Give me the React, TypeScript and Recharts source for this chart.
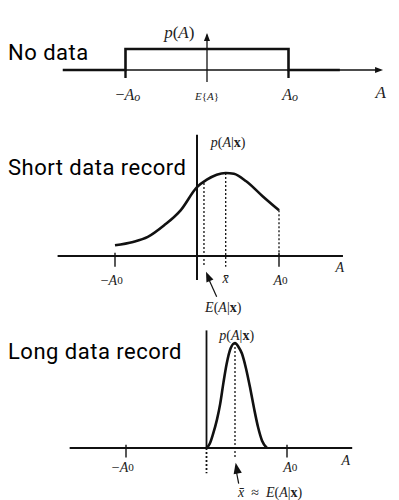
import React from 'react';
import { LineChart, Line, XAxis, YAxis, ReferenceLine, ReferenceDot } from 'recharts';

// ---- Data (A in units of A0, density in units of each panel's peak) ----
const titles = ['No data', 'Short data record', 'Long data record'];

// Panel 1: uniform prior p(A) on [-A0, A0]
const noDataA = [-1.77, -1, -1, 1, 1, 1.63];
const noDataP = [0, 0, 1, 1, 0, 0];

// Panel 2: posterior with short data record
const shortA = [-1, -0.78, -0.6, -0.4, -0.2, 0, 0.12, 0.24, 0.35, 0.45, 0.6, 0.8, 1.0];
const shortP = [0.13, 0.17, 0.23, 0.37, 0.55, 0.83, 0.92, 0.98, 1.0, 0.99, 0.9, 0.72, 0.55];
const shortXbar = 0.35;
const shortMean = 0.085;

// Panel 3: posterior with long data record
const longA = [0, 0.04, 0.08, 0.13, 0.17, 0.21, 0.25, 0.3, 0.354, 0.4, 0.44, 0.49, 0.54, 0.59, 0.64, 0.69, 0.75];
const longP = [0, 0.04, 0.13, 0.27, 0.42, 0.62, 0.8, 0.95, 1.0, 0.96, 0.9, 0.76, 0.58, 0.38, 0.2, 0.07, 0];
const longXbar = 0.354;

const W = 399;
const INK = '#111';
const SERIF = '"Liberation Serif", "DejaVu Serif", serif';

const toData = (a: number[], p: number[]) => a.map((x, i) => ({ a: x, p: p[i] }));

const seg = (key: string, x1: number, y1: number, x2: number, y2: number, w = 1.5, dash?: string) => (
  <ReferenceLine
    key={key}
    segment={[{ x: x1, y: y1 }, { x: x2, y: y2 }]}
    stroke={INK}
    strokeWidth={w}
    strokeDasharray={dash}
    ifOverflow="visible"
  />
);

const arrowHead = (key: string, a: number, p: number, angle: number, size = 8) => (
  <ReferenceDot
    key={key}
    x={a}
    y={p}
    r={0}
    ifOverflow="visible"
    shape={(pr: any) => {
      const t = (angle * Math.PI) / 180;
      const L = size;
      const w = size * 0.38;
      const bx = pr.cx - L * Math.cos(t);
      const by = pr.cy - L * Math.sin(t);
      const nx = -Math.sin(t) * w;
      const ny = Math.cos(t) * w;
      return (
        <polygon
          points={`${pr.cx},${pr.cy} ${bx + nx},${by + ny} ${bx - nx},${by - ny}`}
          fill={INK}
        />
      );
    }}
  />
);

const label = (key: string, a: number, p: number, content: React.ReactNode, size = 13, anchor = 'middle') => (
  <ReferenceDot
    key={key}
    x={a}
    y={p}
    r={0}
    ifOverflow="visible"
    shape={(pr: any) => (
      <text
        x={pr.cx}
        y={pr.cy}
        textAnchor={anchor as any}
        dominantBaseline="central"
        fontFamily={SERIF}
        fontSize={size}
        fill="#222"
      >
        {content}
      </text>
    )}
  />
);

const pAx = (
  <>
    <tspan fontStyle="italic">p</tspan>
    <tspan>(</tspan>
    <tspan fontStyle="italic">A</tspan>
    <tspan>|</tspan>
    <tspan fontWeight="bold">x</tspan>
    <tspan>)</tspan>
  </>
);

const A0 = (neg: boolean) => (
  <>
    <tspan>{neg ? '−' : ''}</tspan>
    <tspan fontStyle="italic">A</tspan>
    <tspan fontSize="0.8em">0</tspan>
  </>
);

type PanelProps = {
  height: number;
  cx0: number;
  k: number;
  y0: number;
  ky: number;
  data: { a: number; p: number }[];
  curve: 'linear' | 'monotone';
  extras: React.ReactNode[];
};

function Panel({ height, cx0, k, y0, ky, data, curve, extras }: PanelProps) {
  const xDomain = [-cx0 / k, (W - cx0) / k];
  const yDomain = [-(height - y0) / ky, y0 / ky];
  return (
    <LineChart width={W} height={height} data={data} margin={{ top: 0, right: 0, bottom: 0, left: 0 }}>
      <XAxis type="number" dataKey="a" domain={xDomain} hide allowDataOverflow />
      <YAxis type="number" domain={yDomain} hide allowDataOverflow />
      {extras}
      <Line
        type={curve}
        dataKey="p"
        stroke={INK}
        strokeWidth={2.6}
        strokeLinecap="butt"
        dot={false}
        activeDot={false}
        isAnimationActive={false}
      />
    </LineChart>
  );
}

const titleStyle = (top: number): React.CSSProperties => ({
  position: 'absolute',
  left: 8,
  top,
  fontFamily: 'Roboto, "Noto Sans", sans-serif',
  fontSize: 22,
  letterSpacing: 0.5,
  lineHeight: '26px',
  color: '#000',
  whiteSpace: 'nowrap',
});

export default function App() {
  const p1Extras = [
    seg('h', -1.5, 0, 2.08, 0, 1.3),
    arrowHead('ha', 2.16, 0, 0, 8),
    seg('v', 0, -0.57, 0, 1.68, 1.3),
    arrowHead('va', 0, 1.76, -90, 8),
    seg('tl', -1, 0, -1, -0.38, 2.4),
    seg('tr', 1, 0, 1, -0.38, 2.4),
    label('pA', -0.34, 1.81, (
      <>
        <tspan fontStyle="italic">p</tspan>
        <tspan>(</tspan>
        <tspan fontStyle="italic">A</tspan>
        <tspan>)</tspan>
      </>
    ), 17),
    label('nA', -0.97, -1.14, (
      <>
        <tspan>−</tspan>
        <tspan fontStyle="italic">A</tspan>
        <tspan fontStyle="italic" fontSize="0.75em" dy={3}>o</tspan>
      </>
    ), 16),
    label('EA', 0, -1.24, (
      <>
        <tspan fontStyle="italic">E</tspan>
        <tspan>{'{'}</tspan>
        <tspan fontStyle="italic">A</tspan>
        <tspan>{'}'}</tspan>
      </>
    ), 11),
    label('pAo', 1.02, -1.14, (
      <>
        <tspan fontStyle="italic">A</tspan>
        <tspan fontStyle="italic" fontSize="0.75em" dy={3}>o</tspan>
      </>
    ), 16),
    label('A', 2.13, -1.05, <tspan fontStyle="italic">A</tspan>, 17),
  ];

  const p2Extras = [
    seg('h', -1.7, 0, 1.78, 0, 1.8),
    seg('v', 0, -0.29, 0, 1.46, 2),
    seg('tl', -1, 0.04, -1, -0.13, 1.4),
    seg('tr', 1, 0.04, 1, -0.13, 1.4),
    seg('dr', 1, 0.55, 1, 0, 1.3, '2 2'),
    seg('dx', shortXbar, 1.0, shortXbar, -0.13, 1.3, '2 2'),
    seg('de', shortMean, 0.88, shortMean, -0.13, 1.3, '2 2'),
    seg('ar', 0.24, -0.49, 0.13, -0.25, 1.2),
    arrowHead('arh', 0.11, -0.19, -113, 10),
    label('pAx', 0.38, 1.37, pAx, 14),
    label('nA0', -1.04, -0.29, A0(true), 14),
    label('xb', shortXbar, -0.27, <tspan fontStyle="italic">x̄</tspan>, 14),
    label('A0', 1.02, -0.29, A0(false), 14),
    label('A', 1.74, -0.13, <tspan fontStyle="italic">A</tspan>, 14),
    label('E', 0.32, -0.61, (
      <>
        <tspan fontStyle="italic">E</tspan>
        <tspan>(</tspan>
        <tspan fontStyle="italic">A</tspan>
        <tspan>|</tspan>
        <tspan fontWeight="bold">x</tspan>
        <tspan>)</tspan>
      </>
    ), 14),
  ];

  const p3Extras = [
    seg('h', -1.7, 0, 1.81, 0, 1.8),
    seg('v', 0, 0, 0, 1.12, 1.8),
    seg('vd', 0, 0, 0, -0.24, 1.8, '2 2'),
    seg('tl', -1, 0.03, -1, -0.09, 1.4),
    seg('tr', 1, 0.03, 1, -0.09, 1.4),
    seg('dx', longXbar, 1.0, longXbar, -0.1, 1.3, '2 2'),
    seg('ar', 0.40, -0.34, 0.37, -0.22, 1.2),
    arrowHead('arh', 0.362, -0.14, -101, 11),
    label('pAx', 0.375, 1.08, pAx, 14),
    label('nA0', -1.04, -0.18, A0(true), 14),
    label('A0', 1.04, -0.18, A0(false), 14),
    label('A', 1.73, -0.11, <tspan fontStyle="italic">A</tspan>, 14),
    label('xE', 0.79, -0.415, (
      <>
        <tspan fontStyle="italic">x̄</tspan>
        <tspan>{'\u00a0\u00a0≈\u00a0\u00a0'}</tspan>
        <tspan fontStyle="italic">E</tspan>
        <tspan>(</tspan>
        <tspan fontStyle="italic">A</tspan>
        <tspan>|</tspan>
        <tspan fontWeight="bold">x</tspan>
        <tspan>)</tspan>
      </>
    ), 14),
  ];

  return (
    <div style={{ position: 'absolute', left: 0, top: 0, width: W, height: 500, background: '#fff' }}>
      <div style={{ position: 'absolute', left: 0, top: 0 }}>
        <Panel height={110} cx0={207} k={81.5} y0={70} ky={21} data={toData(noDataA, noDataP)} curve="linear" extras={p1Extras} />
      </div>
      <div style={{ position: 'absolute', left: 0, top: 110 }}>
        <Panel height={210} cx0={197} k={82} y0={146} ky={83} data={toData(shortA, shortP)} curve="monotone" extras={p2Extras} />
      </div>
      <div style={{ position: 'absolute', left: 0, top: 320 }}>
        <Panel height={180} cx0={206.5} k={80.5} y0={128} ky={105} data={toData(longA, longP)} curve="monotone" extras={p3Extras} />
      </div>
      <div style={titleStyle(40)}>{titles[0]}</div>
      <div style={titleStyle(155)}>{titles[1]}</div>
      <div style={titleStyle(339)}>{titles[2]}</div>
    </div>
  );
}
